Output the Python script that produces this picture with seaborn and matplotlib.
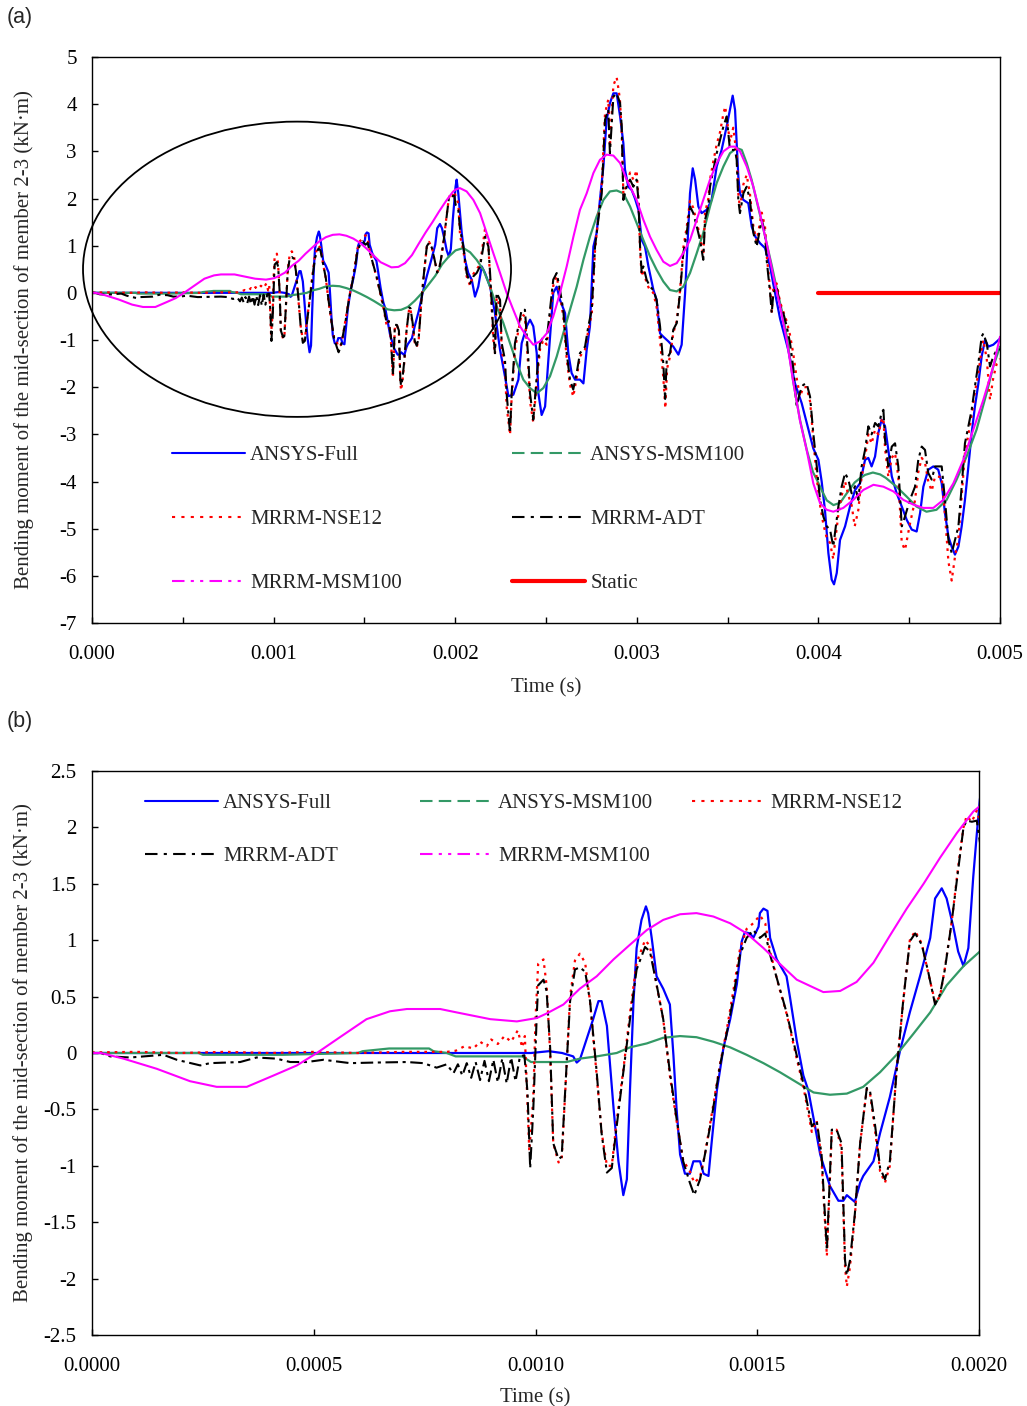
import numpy as np
import matplotlib
matplotlib.use("Agg")
import matplotlib.pyplot as plt
from matplotlib.patches import Ellipse
from matplotlib.lines import Line2D
from matplotlib.legend import Legend
from matplotlib.ticker import MultipleLocator, FuncFormatter
import seaborn as sns

# ---------------- data (time in ms, moment in kN*m) ----------------
ansys_full = [
    (0.0, 0.0), (0.5, 0.0), (0.99, 0.0), (1.03, 0.016), (1.06, 0.0), (1.085, -0.03), (1.093, -0.085),
    (1.100, -0.06), (1.130, 0.30), (1.142, 0.46), (1.149, 0.46), (1.161, 0.24), (1.176, -0.49),
    (1.187, -0.96), (1.198, -1.26), (1.206, -1.12), (1.213, -0.33), (1.221, 0.46), (1.228, 0.93),
    (1.239, 1.18), (1.249, 1.30), (1.254, 1.24), (1.262, 1.02), (1.273, 0.68), (1.288, 0.57),
    (1.303, 0.43), (1.311, -0.02), (1.318, -0.49), (1.326, -0.90), (1.337, -1.07), (1.348, -1.07),
    (1.356, -0.96), (1.371, -0.96), (1.379, -1.07), (1.390, -1.09), (1.397, -0.80), (1.409, -0.33),
    (1.424, 0.05), (1.439, 0.30), (1.454, 0.61), (1.465, 0.99), (1.472, 1.07), (1.484, 1.06),
    (1.491, 1.02), (1.503, 1.12), (1.506, 1.24), (1.514, 1.28), (1.523, 1.26), (1.529, 1.02),
    (1.544, 0.83), (1.566, 0.68), (1.574, 0.49), (1.589, 0.11), (1.604, -0.20), (1.615, -0.33),
    (1.627, -0.58), (1.642, -0.90), (1.664, -1.18), (1.683, -1.31), (1.694, -1.31), (1.702, -1.26),
    (1.720, -1.32), (1.732, -1.15), (1.739, -1.09), (1.762, -0.96), (1.777, -0.71), (1.799, -0.39),
    (1.822, 0.02), (1.844, 0.36), (1.867, 0.68), (1.890, 1.02), (1.901, 1.37), (1.916, 1.46),
    (1.927, 1.37), (1.942, 1.12), (1.953, 0.90), (1.965, 0.77), (1.976, 0.93), (1.987, 1.56),
    (1.995, 1.94), (2.002, 2.25), (2.008, 2.40), (2.017, 2.11), (2.036, 1.27), (2.054, 0.70),
    (2.072, 0.42), (2.091, 0.28), (2.109, -0.08), (2.127, 0.13), (2.146, 0.56), (2.164, 0.42),
    (2.192, 0.13), (2.219, -0.43), (2.247, -1.21), (2.274, -1.77), (2.293, -2.19), (2.320, -2.16),
    (2.348, -1.84), (2.366, -1.07), (2.394, -0.71), (2.412, -0.57), (2.430, -0.71), (2.449, -1.28),
    (2.458, -2.13), (2.476, -2.59), (2.495, -2.41), (2.513, -1.42), (2.540, 0.0), (2.559, 0.13),
    (2.577, -0.15), (2.605, -0.43), (2.623, -1.28), (2.641, -1.70), (2.660, -1.84), (2.687, -1.84),
    (2.706, -1.92), (2.724, -1.21), (2.742, -0.71), (2.761, 0.98), (2.779, 1.27), (2.797, 1.97),
    (2.816, 2.68), (2.834, 3.67), (2.852, 4.02), (2.871, 4.23), (2.889, 4.23), (2.908, 3.74),
    (2.926, 3.17), (2.935, 2.61), (2.953, 2.25), (2.972, 2.18), (2.990, 2.00), (3.009, 1.76),
    (3.027, 1.12), (3.045, 0.98), (3.064, 0.56), (3.091, 0.07), (3.109, -0.15), (3.128, -0.86),
    (3.146, -0.93), (3.174, -1.03), (3.201, -1.14), (3.229, -1.31), (3.247, -1.10), (3.266, 0.0),
    (3.284, 1.41), (3.293, 2.11), (3.308, 2.64), (3.321, 2.40), (3.339, 1.83), (3.357, 1.69),
    (3.385, 1.76), (3.412, 1.97), (3.440, 2.68), (3.467, 3.03), (3.495, 3.53), (3.513, 3.88),
    (3.528, 4.18), (3.541, 3.88), (3.550, 3.17), (3.559, 2.47), (3.568, 2.11), (3.587, 1.97),
    (3.614, 1.90), (3.633, 1.40), (3.651, 1.20), (3.679, 1.05), (3.706, 0.95), (3.734, 0.56),
    (3.751, 0.20), (3.789, -0.55), (3.816, -0.95), (3.834, -1.21), (3.871, -1.92), (3.908, -2.34),
    (3.945, -2.90), (3.972, -3.30), (4.000, -3.54), (4.018, -4.00), (4.036, -4.60), (4.055, -5.52),
    (4.073, -6.08), (4.086, -6.18), (4.101, -5.94), (4.119, -5.24), (4.147, -4.95), (4.174, -4.53),
    (4.202, -4.18), (4.229, -4.04), (4.257, -3.54), (4.275, -3.50), (4.293, -3.68), (4.312, -3.47),
    (4.330, -2.97), (4.348, -2.69), (4.367, -2.83), (4.385, -3.33), (4.404, -3.89), (4.431, -4.25),
    (4.459, -4.53), (4.486, -4.81), (4.514, -5.02), (4.541, -5.06), (4.560, -4.67), (4.578, -4.11),
    (4.605, -3.75), (4.633, -3.68), (4.660, -3.75), (4.679, -4.04), (4.697, -4.67), (4.716, -5.17),
    (4.734, -5.38), (4.752, -5.55), (4.771, -5.38), (4.789, -4.95), (4.807, -4.39), (4.826, -3.68),
    (4.844, -2.97), (4.862, -2.41), (4.881, -1.92), (4.899, -1.35), (4.917, -1.00), (4.936, -1.14),
    (4.963, -1.10), (4.991, -1.00), (5.000, -0.97),
]

ansys_msm100 = [
    (0.0, 0.0), (0.24, 0.0), (0.25, -0.016), (0.43, -0.016), (0.60, 0.0), (0.61, 0.016), (0.67, 0.04),
    (0.76, 0.04), (0.77, 0.016), (0.80, 0.0), (0.82, -0.03), (0.97, -0.03), (0.99, -0.08), (1.07, -0.08),
    (1.100, -0.05), (1.138, -0.03), (1.183, 0.0), (1.213, 0.05), (1.251, 0.085), (1.288, 0.135),
    (1.326, 0.15), (1.363, 0.14), (1.401, 0.10), (1.439, 0.05), (1.476, -0.016), (1.514, -0.09),
    (1.551, -0.17), (1.589, -0.26), (1.627, -0.35), (1.664, -0.37), (1.702, -0.36), (1.739, -0.30),
    (1.777, -0.17), (1.814, -0.016), (1.852, 0.17), (1.890, 0.36), (1.927, 0.60), (1.965, 0.77),
    (2.002, 0.90), (2.045, 0.95), (2.082, 0.86), (2.118, 0.70), (2.155, 0.49), (2.192, 0.13),
    (2.228, -0.29), (2.265, -0.64), (2.302, -1.07), (2.339, -1.49), (2.375, -1.84), (2.412, -2.02),
    (2.449, -2.13), (2.485, -2.02), (2.522, -1.77), (2.559, -1.35), (2.595, -0.86), (2.632, -0.36),
    (2.669, 0.13), (2.706, 0.70), (2.742, 1.19), (2.779, 1.62), (2.816, 1.97), (2.852, 2.15),
    (2.889, 2.17), (2.926, 2.11), (2.963, 1.83), (2.999, 1.48), (3.036, 1.12), (3.073, 0.77),
    (3.109, 0.49), (3.146, 0.24), (3.183, 0.06), (3.220, 0.03), (3.256, 0.13), (3.293, 0.42),
    (3.330, 0.84), (3.366, 1.27), (3.403, 1.83), (3.440, 2.33), (3.477, 2.68), (3.513, 2.96),
    (3.550, 3.07), (3.578, 3.03), (3.605, 2.75), (3.632, 2.40), (3.660, 1.95), (3.688, 1.50),
    (3.715, 1.05), (3.742, 0.60), (3.770, 0.10), (3.800, -0.40), (3.826, -0.93), (3.862, -1.90),
    (3.899, -2.70), (3.936, -3.33), (3.970, -3.80), (3.991, -3.96), (4.020, -4.20), (4.046, -4.40),
    (4.083, -4.50), (4.120, -4.45), (4.147, -4.30), (4.175, -4.15), (4.200, -4.02), (4.229, -3.93),
    (4.257, -3.86), (4.300, -3.81), (4.340, -3.85), (4.370, -3.92), (4.430, -4.11), (4.486, -4.32),
    (4.540, -4.53), (4.595, -4.64), (4.650, -4.60), (4.706, -4.39), (4.761, -3.96), (4.816, -3.47),
    (4.871, -2.90), (4.926, -2.13), (4.963, -1.56), (5.000, -1.14),
]

mrrm_nse12 = [
    (0.0, 0.005), (0.1, 0.01), (0.2, 0.0), (0.3, 0.01), (0.4, 0.0), (0.5, 0.01), (0.6, 0.0), (0.7, 0.01),
    (0.80, 0.01), (0.82, 0.02), (0.84, 0.06), (0.86, 0.04), (0.875, 0.10), (0.89, 0.06), (0.90, 0.12),
    (0.915, 0.08), (0.93, 0.15), (0.945, 0.10), (0.96, 0.20), (0.97, 0.05), (0.976, 0.15), (0.986, -0.87),
    (0.995, -0.40), (1.000, 0.30), (1.006, 0.79), (1.018, 0.83), (1.025, 0.60), (1.033, 0.0),
    (1.040, -0.80), (1.052, -0.97), (1.059, -0.95), (1.067, -0.35), (1.078, 0.50), (1.089, 0.82),
    (1.100, 0.88), (1.112, 0.80), (1.123, 0.45), (1.138, -0.20), (1.149, -0.70), (1.161, -1.00),
    (1.172, -1.00), (1.183, -0.60), (1.198, -0.15), (1.213, 0.35), (1.228, 0.80), (1.247, 1.00),
    (1.258, 0.95), (1.273, 0.60), (1.288, 0.30), (1.303, -0.20), (1.318, -0.60), (1.333, -0.95),
    (1.348, -1.05), (1.358, -1.15), (1.371, -1.10), (1.382, -0.90), (1.397, -0.55), (1.416, -0.10),
    (1.431, 0.20), (1.446, 0.55), (1.461, 0.92), (1.476, 1.10), (1.491, 1.15), (1.506, 1.22),
    (1.518, 1.15), (1.529, 0.90), (1.548, 0.60), (1.566, 0.35), (1.589, -0.05), (1.604, -0.30),
    (1.623, -0.70), (1.634, -0.60), (1.645, -0.95), (1.657, -1.80), (1.668, -0.70), (1.679, -0.68),
    (1.690, -0.85), (1.698, -1.90), (1.702, -2.07), (1.709, -1.90), (1.720, -1.45), (1.732, -0.80),
    (1.747, -0.32), (1.754, -0.35), (1.766, -0.70), (1.777, -1.05), (1.788, -1.15), (1.799, -1.00),
    (1.814, -0.15), (1.829, 0.45), (1.844, 1.00), (1.856, 1.08), (1.871, 0.97), (1.886, 0.70),
    (1.901, 0.45), (1.912, 0.50), (1.923, 0.75), (1.938, 1.15), (1.953, 1.65), (1.965, 2.00),
    (1.972, 2.10), (1.984, 2.05), (1.995, 2.15), (2.002, 2.05), (2.017, 1.90), (2.027, 1.20),
    (2.045, 0.90), (2.063, 0.35), (2.082, 0.15), (2.100, 0.40), (2.118, 0.50), (2.137, 0.60),
    (2.164, 1.35), (2.183, 1.00), (2.192, 0.30), (2.210, -1.00), (2.219, -1.30), (2.228, -0.10),
    (2.247, -0.30), (2.256, -1.20), (2.274, -1.60), (2.283, -2.40), (2.302, -3.01), (2.311, -2.20),
    (2.329, -1.20), (2.348, -0.80), (2.366, -0.45), (2.384, -0.50), (2.403, -1.60), (2.412, -2.30),
    (2.430, -2.75), (2.449, -1.90), (2.467, -1.20), (2.485, -1.00), (2.504, -1.10), (2.522, -0.50),
    (2.540, 0.15), (2.559, 0.35), (2.577, -0.05), (2.595, -0.50), (2.614, -1.40), (2.632, -1.95),
    (2.650, -2.20), (2.669, -1.80), (2.687, -1.35), (2.715, -1.20), (2.733, -0.80), (2.752, -0.45),
    (2.770, 0.90), (2.788, 1.60), (2.807, 2.30), (2.825, 3.80), (2.843, 4.10), (2.852, 3.10),
    (2.871, 4.40), (2.889, 4.57), (2.898, 4.35), (2.907, 4.10), (2.917, 3.40), (2.926, 2.10),
    (2.944, 2.30), (2.963, 2.55), (2.981, 2.40), (2.999, 2.60), (3.009, 2.00), (3.018, 0.90),
    (3.027, 0.35), (3.036, 0.50), (3.054, 0.20), (3.073, 0.05), (3.091, 0.0), (3.109, -0.30),
    (3.128, -1.00), (3.146, -1.80), (3.157, -2.45), (3.167, -1.60), (3.183, -1.35), (3.201, -0.85),
    (3.220, -0.60), (3.238, 0.05), (3.256, 0.95), (3.275, 1.40), (3.293, 1.95), (3.311, 1.80),
    (3.330, 1.50), (3.348, 1.20), (3.366, 0.80), (3.376, 1.70), (3.394, 2.00), (3.403, 2.40),
    (3.422, 2.80), (3.440, 3.15), (3.458, 3.40), (3.477, 3.80), (3.487, 3.95), (3.495, 3.70),
    (3.513, 3.20), (3.531, 3.50), (3.541, 3.20), (3.550, 2.90), (3.559, 2.10), (3.568, 1.80),
    (3.587, 2.30), (3.605, 2.50), (3.623, 2.10), (3.642, 1.40), (3.660, 1.10), (3.688, 1.70),
    (3.706, 1.40), (3.715, 0.80), (3.734, 0.10), (3.743, -0.40), (3.752, 0.10), (3.770, 0.20),
    (3.789, -0.20), (3.807, -0.40), (3.825, -0.60), (3.844, -0.90), (3.862, -1.30), (3.880, -1.80),
    (3.899, -2.20), (3.917, -2.00), (3.935, -2.00), (3.954, -2.30), (3.972, -3.10), (3.990, -3.90),
    (4.009, -4.50), (4.027, -4.90), (4.046, -5.20), (4.064, -5.30), (4.082, -5.65), (4.091, -5.30),
    (4.110, -4.70), (4.128, -4.30), (4.147, -4.00), (4.165, -4.30), (4.183, -4.50), (4.200, -4.95),
    (4.220, -4.60), (4.238, -3.90), (4.257, -3.50), (4.275, -3.00), (4.293, -3.20), (4.312, -2.90),
    (4.330, -3.00), (4.348, -2.70), (4.358, -2.65), (4.367, -3.30), (4.385, -3.90), (4.404, -3.50),
    (4.422, -3.40), (4.440, -3.90), (4.459, -5.30), (4.477, -5.45), (4.504, -4.90), (4.532, -4.40),
    (4.550, -3.80), (4.569, -3.50), (4.587, -3.60), (4.605, -4.00), (4.624, -4.20), (4.642, -3.90),
    (4.679, -3.90), (4.697, -4.70), (4.716, -5.70), (4.734, -6.10), (4.752, -5.60), (4.771, -5.20),
    (4.789, -4.30), (4.807, -3.40), (4.826, -3.00), (4.844, -2.60), (4.862, -2.10), (4.881, -1.70),
    (4.899, -1.20), (4.908, -1.00), (4.927, -1.40), (4.945, -2.27), (4.963, -1.80), (4.982, -1.50),
    (5.000, -1.40),
]

mrrm_adt = [
    (0.0, 0.0), (0.02, 0.0), (0.041, -0.03), (0.086, -0.04), (0.161, -0.016), (0.191, -0.06),
    (0.244, -0.11), (0.266, -0.09), (0.334, -0.08), (0.371, -0.04), (0.416, -0.05), (0.447, -0.08),
    (0.484, -0.08), (0.522, -0.06), (0.582, -0.09), (0.634, -0.085), (0.710, -0.08), (0.747, -0.09),
    (0.777, -0.13), (0.800, -0.10), (0.815, -0.18), (0.825, -0.10), (0.835, -0.20), (0.845, -0.09),
    (0.855, -0.22), (0.865, -0.08), (0.875, -0.24), (0.885, -0.07), (0.895, -0.25), (0.905, -0.06),
    (0.915, -0.26), (0.925, -0.05), (0.935, -0.27), (0.945, -0.04), (0.955, -0.25), (0.965, -0.03),
    (0.975, -0.02), (0.982, -0.35), (0.988, -1.02), (0.995, -0.50), (1.003, 0.35), (1.006, 0.60),
    (1.018, 0.65), (1.025, 0.55), (1.033, 0.05), (1.040, -0.80), (1.052, -0.94), (1.059, -0.92),
    (1.067, -0.33), (1.078, 0.46), (1.089, 0.74), (1.100, 0.76), (1.112, 0.72), (1.123, 0.46),
    (1.138, -0.17), (1.149, -0.71), (1.161, -1.06), (1.172, -1.02), (1.183, -0.65), (1.198, -0.17),
    (1.213, 0.30), (1.228, 0.74), (1.247, 0.94), (1.258, 0.90), (1.273, 0.61), (1.288, 0.30),
    (1.303, -0.17), (1.318, -0.58), (1.333, -0.96), (1.348, -1.15), (1.358, -1.26), (1.371, -1.12),
    (1.382, -0.90), (1.397, -0.58), (1.416, -0.11), (1.431, 0.17), (1.446, 0.49), (1.461, 0.87),
    (1.476, 1.02), (1.491, 1.09), (1.506, 1.02), (1.518, 1.06), (1.529, 0.87), (1.548, 0.61),
    (1.566, 0.36), (1.589, -0.02), (1.604, -0.27), (1.623, -0.65), (1.634, -0.60), (1.645, -0.90),
    (1.657, -1.75), (1.668, -0.68), (1.679, -0.68), (1.690, -0.80), (1.698, -1.84), (1.702, -1.97),
    (1.709, -1.84), (1.720, -1.43), (1.732, -0.80), (1.747, -0.31), (1.754, -0.33), (1.766, -0.65),
    (1.777, -1.02), (1.788, -1.12), (1.799, -0.96), (1.814, -0.17), (1.829, 0.46), (1.844, 0.99),
    (1.856, 1.06), (1.871, 0.96), (1.886, 0.71), (1.901, 0.43), (1.912, 0.52), (1.923, 0.74),
    (1.938, 1.15), (1.953, 1.62), (1.965, 2.00), (1.972, 2.06), (1.984, 2.05), (1.995, 2.06),
    (2.002, 1.87), (2.017, 1.76), (2.027, 1.34), (2.045, 0.98), (2.063, 0.42), (2.082, 0.20),
    (2.100, 0.35), (2.118, 0.42), (2.137, 0.56), (2.164, 1.19), (2.183, 0.98), (2.192, 0.42),
    (2.210, -0.86), (2.219, -1.28), (2.228, 0.0), (2.247, -0.15), (2.256, -1.07), (2.274, -1.42),
    (2.283, -2.13), (2.302, -2.97), (2.311, -2.13), (2.329, -1.07), (2.348, -0.71), (2.366, -0.36),
    (2.384, -0.36), (2.403, -1.42), (2.412, -2.13), (2.430, -2.69), (2.449, -1.77), (2.467, -1.07),
    (2.485, -0.93), (2.504, -0.99), (2.522, -0.36), (2.540, 0.28), (2.559, 0.42), (2.577, 0.06),
    (2.595, -0.36), (2.614, -1.28), (2.632, -1.84), (2.650, -2.05), (2.669, -1.70), (2.687, -1.28),
    (2.715, -1.14), (2.733, -0.71), (2.752, -0.36), (2.770, 0.98), (2.788, 1.55), (2.807, 2.11),
    (2.825, 3.67), (2.843, 3.88), (2.852, 2.96), (2.871, 4.16), (2.889, 4.23), (2.908, 4.02),
    (2.917, 3.53), (2.926, 1.97), (2.944, 2.25), (2.963, 2.40), (2.981, 2.25), (2.999, 2.40),
    (3.009, 1.97), (3.018, 0.98), (3.027, 0.42), (3.036, 0.56), (3.054, 0.28), (3.073, 0.13),
    (3.091, 0.06), (3.109, -0.15), (3.128, -0.71), (3.146, -1.50), (3.156, -2.25), (3.165, -1.40),
    (3.183, -1.28), (3.201, -0.78), (3.220, -0.64), (3.238, 0.0), (3.256, 0.84), (3.275, 1.27),
    (3.293, 1.83), (3.311, 1.69), (3.330, 1.41), (3.348, 1.12), (3.366, 0.70), (3.376, 1.55),
    (3.394, 1.83), (3.403, 2.25), (3.422, 2.61), (3.440, 2.96), (3.458, 3.24), (3.477, 3.53),
    (3.495, 3.74), (3.513, 3.03), (3.541, 3.03), (3.550, 2.82), (3.559, 1.97), (3.568, 1.69),
    (3.587, 2.11), (3.605, 2.25), (3.623, 1.97), (3.642, 1.27), (3.660, 0.98), (3.688, 1.55),
    (3.706, 1.27), (3.715, 0.70), (3.734, 0.0), (3.743, -0.43), (3.752, 0.0), (3.770, 0.13),
    (3.789, -0.29), (3.807, -0.43), (3.825, -0.70), (3.844, -1.07), (3.862, -1.60), (3.880, -2.40),
    (3.899, -2.10), (3.917, -1.95), (3.935, -1.92), (3.954, -2.20), (3.972, -2.98), (3.991, -3.68),
    (4.009, -4.39), (4.027, -4.74), (4.046, -4.95), (4.064, -5.02), (4.082, -5.38), (4.091, -5.10),
    (4.110, -4.53), (4.128, -4.11), (4.147, -3.82), (4.165, -3.96), (4.183, -4.25), (4.202, -4.10),
    (4.220, -4.39), (4.238, -3.68), (4.257, -3.33), (4.275, -2.83), (4.293, -3.00), (4.312, -2.76),
    (4.330, -2.83), (4.348, -2.55), (4.358, -2.48), (4.367, -3.12), (4.385, -3.68), (4.404, -3.26),
    (4.422, -3.19), (4.440, -3.68), (4.459, -4.95), (4.477, -4.74), (4.504, -4.39), (4.532, -4.11),
    (4.550, -3.54), (4.569, -3.26), (4.587, -3.33), (4.605, -3.82), (4.624, -3.96), (4.642, -3.68),
    (4.679, -3.68), (4.697, -4.39), (4.716, -5.24), (4.734, -5.52), (4.752, -5.24), (4.771, -4.95),
    (4.789, -4.11), (4.807, -3.19), (4.826, -2.83), (4.844, -2.48), (4.862, -1.98), (4.881, -1.49),
    (4.899, -0.93), (4.908, -0.86), (4.927, -1.07), (4.945, -1.56), (4.963, -1.35), (4.982, -1.21),
    (5.000, -1.20),
]

mrrm_msm100 = [
    (0.0, 0.0), (0.02, 0.0), (0.071, -0.05), (0.146, -0.14), (0.221, -0.25), (0.281, -0.30),
    (0.349, -0.30), (0.409, -0.20), (0.462, -0.11), (0.507, 0.0), (0.559, 0.14), (0.619, 0.30),
    (0.672, 0.37), (0.710, 0.39), (0.785, 0.39), (0.822, 0.36), (0.898, 0.30), (0.958, 0.28),
    (1.003, 0.31), (1.025, 0.35), (1.063, 0.43), (1.100, 0.57), (1.138, 0.68), (1.176, 0.83),
    (1.213, 0.96), (1.251, 1.09), (1.288, 1.18), (1.326, 1.23), (1.363, 1.24), (1.401, 1.21),
    (1.439, 1.15), (1.476, 1.06), (1.514, 0.93), (1.551, 0.79), (1.589, 0.65), (1.627, 0.58),
    (1.649, 0.54), (1.687, 0.55), (1.724, 0.63), (1.762, 0.80), (1.799, 1.04), (1.837, 1.28),
    (1.875, 1.50), (1.912, 1.73), (1.950, 1.95), (1.987, 2.14), (2.002, 2.19), (2.026, 2.22),
    (2.063, 2.15), (2.100, 1.97), (2.137, 1.69), (2.173, 1.27), (2.210, 0.84), (2.247, 0.42),
    (2.283, 0.0), (2.320, -0.36), (2.357, -0.71), (2.394, -0.93), (2.430, -1.10), (2.467, -1.03),
    (2.504, -0.86), (2.540, -0.50), (2.577, 0.0), (2.614, 0.56), (2.651, 1.19), (2.687, 1.76),
    (2.724, 2.11), (2.761, 2.54), (2.797, 2.82), (2.834, 2.93), (2.871, 2.91), (2.908, 2.75),
    (2.944, 2.40), (2.981, 2.11), (2.999, 1.97), (3.036, 1.55), (3.073, 1.19), (3.109, 0.91),
    (3.146, 0.66), (3.183, 0.57), (3.220, 0.63), (3.256, 0.84), (3.293, 1.12), (3.330, 1.55),
    (3.366, 1.97), (3.403, 2.40), (3.440, 2.75), (3.477, 3.00), (3.513, 3.10), (3.541, 3.10),
    (3.568, 3.00), (3.605, 2.68), (3.642, 2.25), (3.678, 1.69), (3.715, 1.05), (3.752, 0.35),
    (3.789, -0.29), (3.825, -0.99), (3.862, -1.90), (3.899, -2.72), (3.935, -3.33), (3.972, -4.04),
    (4.009, -4.46), (4.046, -4.60), (4.082, -4.64), (4.137, -4.56), (4.192, -4.39), (4.247, -4.18),
    (4.303, -4.07), (4.358, -4.11), (4.413, -4.21), (4.468, -4.39), (4.523, -4.49), (4.578, -4.56),
    (4.633, -4.56), (4.688, -4.39), (4.743, -4.04), (4.798, -3.54), (4.853, -2.90), (4.908, -2.27),
    (4.963, -1.56), (5.000, -0.93),
]

static = [(4.0, 0.0), (5.0, 0.0)]

labels_a = ["ANSYS-Full", "ANSYS-MSM100", "MRRM-NSE12", "MRRM-ADT", "MRRM-MSM100", "Static"]

# ---------------- style ----------------
sns.set_style("ticks")
plt.rcParams["font.family"] = ["Liberation Serif", "DejaVu Serif"]
plt.rcParams["axes.unicode_minus"] = False

C_BLUE, C_GREEN, C_RED, C_BLACK, C_MAG = "#0000FF", "#339966", "#FF0000", "#000000", "#FF00FF"
FS = 15

styles = {
    "ANSYS-Full":   dict(color=C_BLUE, lw=1.6, ls="-", lls="-"),
    "ANSYS-MSM100": dict(color=C_GREEN, lw=1.6, ls="-", lls=(0, (6, 3))),
    "MRRM-NSE12":   dict(color=C_RED, lw=1.6, ls=(0, (1.2, 2.2)), lls=(0, (1.5, 3))),
    "MRRM-ADT":     dict(color=C_BLACK, lw=1.5, ls=(0, (6, 2.2, 1.5, 2.2)), lls=(0, (6, 3, 1.5, 3))),
    "MRRM-MSM100":  dict(color=C_MAG, lw=1.5, ls="-", lls=(0, (6, 3, 1.5, 3, 1.5, 3))),
    "Static":       dict(color=C_RED, lw=3.0, ls="-", lls="-"),
}
data = {
    "ANSYS-Full": ansys_full, "ANSYS-MSM100": ansys_msm100, "MRRM-NSE12": mrrm_nse12,
    "MRRM-ADT": mrrm_adt, "MRRM-MSM100": mrrm_msm100, "Static": static,
}


def draw(ax, names):
    for nm in names:
        t, m = zip(*data[nm])
        st = styles[nm]
        sns.lineplot(x=np.asarray(t) * 1e-3, y=np.asarray(m), ax=ax, color=st["color"],
                     linewidth=st["lw"], linestyle=st["ls"], sort=False, estimator=None,
                     legend=False)


def handle(nm):
    st = styles[nm]
    return Line2D([], [], color=st["color"], lw=st["lw"] if nm == "Static" else 1.5, linestyle=st["lls"])


def col_legend(ax, names, x, y, spacing):
    leg = Legend(ax, [handle(n) for n in names], names, loc="upper left", bbox_to_anchor=(x, y),
                 bbox_transform=ax.transAxes, frameon=False, fontsize=FS, handlelength=3.5,
                 handletextpad=0.25, labelspacing=spacing, borderpad=0, borderaxespad=0)
    ax.add_artist(leg)
    return leg


fig = plt.figure(figsize=(10.27, 14.06), dpi=100)
axA = fig.add_axes([92 / 1027, 1 - 623 / 1406, 908 / 1027, 566 / 1406])
axB = fig.add_axes([92 / 1027, 1 - 1335 / 1406, 887 / 1027, 564 / 1406])

draw(axA, labels_a)
draw(axB, labels_a[:5])

# ellipse marking the zoomed region
axA.add_patch(Ellipse((0.001129, 0.50), 0.002357, 6.26, fill=False, edgecolor="black",
                      lw=1.3, clip_on=False, zorder=5))

ylab = "Bending moment of the mid-section of member 2-3 (kN\u00b7m)"
for ax in (axA, axB):
    for sp in ax.spines.values():
        sp.set_visible(True)
        sp.set_linewidth(1.0)
        sp.set_color("black")
    ax.tick_params(axis="both", which="both", direction="in", length=4.5, width=1.0,
                   labelsize=FS, top=False, right=False, colors="black")
    ax.tick_params(axis="x", pad=16)
    ax.tick_params(axis="y", pad=11)
    ax.set_xlabel("Time (s)", fontsize=FS)
    ax.set_ylabel(ylab, fontsize=FS)
    ax.grid(False)

axA.set_xlim(0, 0.005)
axA.set_ylim(-7, 5)
axA.xaxis.set_major_locator(MultipleLocator(0.001))
axA.xaxis.set_minor_locator(MultipleLocator(0.0005))
axA.xaxis.set_major_formatter(FuncFormatter(lambda v, p: f"{v:.3f}"))
axA.yaxis.set_major_locator(MultipleLocator(1))
axA.yaxis.set_major_formatter(FuncFormatter(lambda v, p: f"{round(v) + 0:d}"))
axA.xaxis.set_label_coords(0.5, -0.098)
axA.yaxis.set_label_coords(-0.064, 0.5)

axB.set_xlim(0, 0.002)
axB.set_ylim(-2.5, 2.5)
axB.xaxis.set_major_locator(MultipleLocator(0.0005))
axB.xaxis.set_major_formatter(FuncFormatter(lambda v, p: f"{v:.4f}"))
axB.yaxis.set_major_locator(MultipleLocator(0.5))
axB.yaxis.set_major_formatter(FuncFormatter(lambda v, p: f"{round(v, 2) + 0:g}"))
axB.xaxis.set_label_coords(0.5, -0.094)
axB.yaxis.set_label_coords(-0.066, 0.5)

# legends (one per column)
col_legend(axA, ["ANSYS-Full", "MRRM-NSE12", "MRRM-MSM100"], 0.088, 0.313, 2.12)
col_legend(axA, ["ANSYS-MSM100", "MRRM-ADT", "Static"], 0.4626, 0.313, 2.12)
col_legend(axB, ["ANSYS-Full", "MRRM-ADT"], 0.0598, 0.960, 1.62)
col_legend(axB, ["ANSYS-MSM100", "MRRM-MSM100"], 0.3698, 0.960, 1.62)
col_legend(axB, ["MRRM-NSE12"], 0.6764, 0.960, 1.62)

fig.text(7 / 1027, 1 - 18 / 1406, "(a)", fontsize=15.5, family=["Liberation Sans", "DejaVu Sans"],
         ha="left", va="center")
fig.text(7 / 1027, 1 - 722 / 1406, "(b)", fontsize=15.5, family=["Liberation Sans", "DejaVu Sans"],
         ha="left", va="center")

fig.savefig("out.png", dpi=100)
